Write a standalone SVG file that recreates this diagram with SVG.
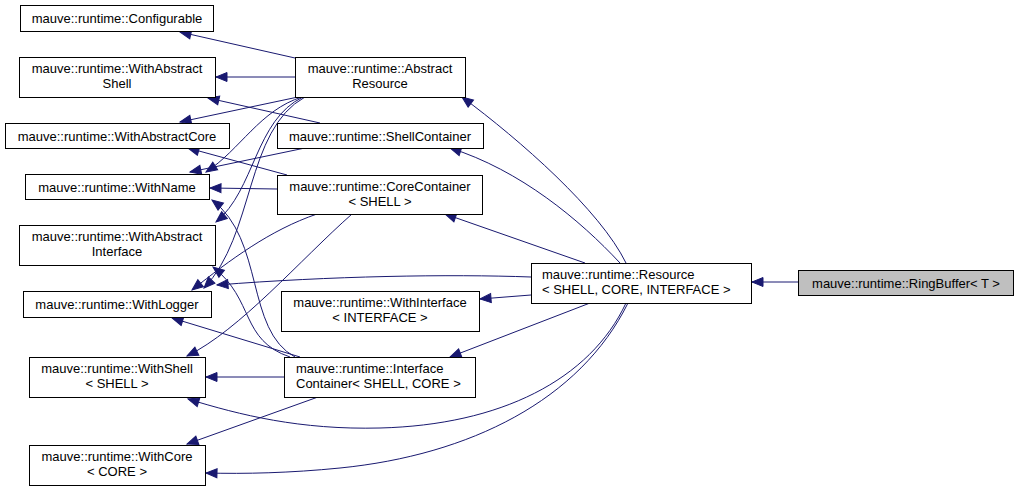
<svg xmlns="http://www.w3.org/2000/svg" width="1019" height="491" viewBox="0 0 1019 491">
<style>
.n rect{fill:#fff;stroke:#000;stroke-width:1}
.n text{font-family:"Liberation Sans",Arial,sans-serif;font-size:13px;fill:#000;text-anchor:middle}
.n text.l{text-anchor:start}
#edges path{fill:none;stroke:#191970;stroke-width:1;marker-end:url(#a)}
</style>
<defs>
<marker id="a" markerUnits="userSpaceOnUse" markerWidth="14" markerHeight="12" refX="11" refY="4.5" orient="auto" overflow="visible">
<path d="M0,0 L11,4.5 L0,9 z" fill="#191970" stroke="#191970"/>
</marker>
</defs>
<rect width="1019" height="491" fill="#fff"/>
<g id="edges">
<path d="M798,282 L752,282"/>
<path d="M626,263 C600,210 520,140 462,97"/>
<path d="M620,263 C580,220 520,170 450,148"/>
<path d="M585,263 L445,214"/>
<path d="M531,295 L480,299"/>
<path d="M590,303 L450,357"/>
<path d="M531,277 C450,274 330,276 217,285"/>
<path d="M626,303 C590,380 500,425 380,428 C300,430 240,415 188,399"/>
<path d="M628,303 C580,400 470,455 340,468 C290,473 245,474 206,473"/>
<path d="M295,58 L180,32"/>
<path d="M295,77 L216,77"/>
<path d="M298,97 L180,122"/>
<path d="M302,97 C260,110 240,150 206,172"/>
<path d="M303,97 C255,120 255,190 216,222"/>
<path d="M305,97 C245,130 255,235 204,288"/>
<path d="M320,123 L208,98"/>
<path d="M305,148 L190,172"/>
<path d="M287,175 L188,148"/>
<path d="M277,189 L210,188"/>
<path d="M317,214 C270,230 230,260 192,290"/>
<path d="M352,214 C300,260 240,330 187,356"/>
<path d="M284,377 L206,377"/>
<path d="M300,357 L172,318"/>
<path d="M295,357 C245,330 265,240 212,200"/>
<path d="M290,357 C240,340 255,300 213,267"/>
<path d="M318,397 L187,444"/>
</g>
<g id="configurable" class="n"><rect x="20.5" y="5.5" width="193" height="26"/><text x="117" y="23">mauve::runtime::Configurable</text></g>
<g id="withabstractshell" class="n"><rect x="19.5" y="57.5" width="196" height="40"/><text x="117" y="73">mauve::runtime::WithAbstract</text><text x="117" y="88">Shell</text></g>
<g id="withabstractcore" class="n"><rect x="5.5" y="123.5" width="224" height="25"/><text x="117" y="141">mauve::runtime::WithAbstractCore</text></g>
<g id="withname" class="n"><rect x="25.5" y="174.5" width="184" height="25"/><text x="117" y="192">mauve::runtime::WithName</text></g>
<g id="withabstractinterface" class="n"><rect x="19.5" y="225.5" width="196" height="40"/><text x="117" y="241">mauve::runtime::WithAbstract</text><text x="117" y="256">Interface</text></g>
<g id="withlogger" class="n"><rect x="23.5" y="291.5" width="188" height="26"/><text x="117" y="309">mauve::runtime::WithLogger</text></g>
<g id="withshell" class="n"><rect x="29.5" y="357.5" width="176" height="40"/><text x="117" y="373">mauve::runtime::WithShell</text><text x="117" y="388">&lt; SHELL &gt;</text></g>
<g id="withcore" class="n"><rect x="29.5" y="445.5" width="176" height="40"/><text x="117" y="461">mauve::runtime::WithCore</text><text x="117" y="476">&lt; CORE &gt;</text></g>
<g id="abstractresource" class="n"><rect x="295.5" y="57.5" width="170" height="40"/><text x="380" y="73">mauve::runtime::Abstract</text><text x="380" y="88">Resource</text></g>
<g id="shellcontainer" class="n"><rect x="277.5" y="123.5" width="206" height="25"/><text x="380" y="141">mauve::runtime::ShellContainer</text></g>
<g id="corecontainer" class="n"><rect x="277.5" y="175.5" width="205" height="39"/><text x="380" y="191">mauve::runtime::CoreContainer</text><text x="380" y="206">&lt; SHELL &gt;</text></g>
<g id="withinterface" class="n"><rect x="281.5" y="291.5" width="198" height="40"/><text x="380" y="307">mauve::runtime::WithInterface</text><text x="380" y="322">&lt; INTERFACE &gt;</text></g>
<g id="interfacecontainer" class="n"><rect x="284.5" y="357.5" width="191" height="40"/><text class="l" x="296" y="373">mauve::runtime::Interface</text><text class="l" x="296" y="388">Container&lt; SHELL, CORE &gt;</text></g>
<g id="resource" class="n"><rect x="531.5" y="263.5" width="220" height="40"/><text class="l" x="542" y="279">mauve::runtime::Resource</text><text class="l" x="542" y="294">&lt; SHELL, CORE, INTERFACE &gt;</text></g>
<g id="ringbuffer" class="n"><rect x="798.5" y="270.5" width="215" height="25" style="fill:#bfbfbf"/><text x="906" y="288">mauve::runtime::RingBuffer&lt; T &gt;</text></g>
</svg>
